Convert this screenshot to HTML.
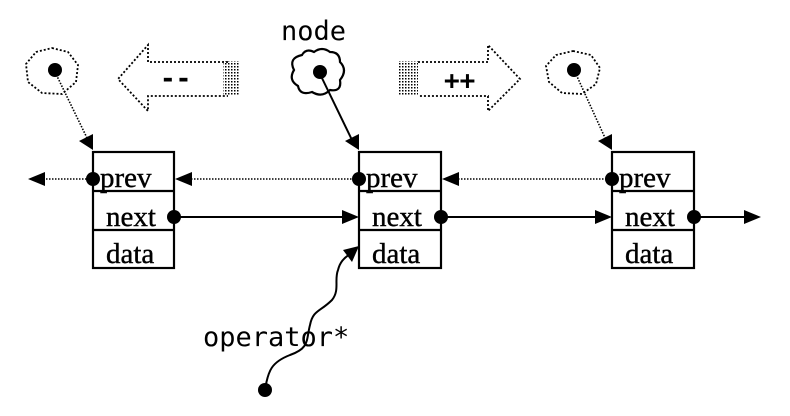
<!DOCTYPE html>
<html><head><style>html,body{margin:0;padding:0;background:#fff}</style></head><body>
<svg width="790" height="411" viewBox="0 0 790 411" xmlns="http://www.w3.org/2000/svg">
<defs>
<pattern id="h" width="3" height="3" patternUnits="userSpaceOnUse"><rect width="1.5" height="1.5" fill="#000"/></pattern>
</defs>
<g fill="none" stroke="#000">
<path d="M52,48 L68,52 L78,65 L76,82 L62,94 L42,93 L28,82 L26,64 L36,52 Z" stroke-dasharray="2,2" stroke-width="1.8"/>
<path d="M573,51 L591,55 L600,68 L596,84 L582,94 L562,93 L549,82 L546,66 L556,55 Z" stroke-dasharray="2,2" stroke-width="1.8"/>
<path d="M302,55 Q306,48 314,52 Q322,46 330,52 Q340,52 340,62 Q348,70 340,80 Q342,92 330,90 Q322,98 312,92 Q300,96 298,86 Q288,80 294,70 Q288,58 302,55 Z" stroke-width="2.2"/>
<path d="M228,62 L148,62 L148,45 L118,79 L148,111 L148,96 L228,96" stroke-dasharray="2,2" stroke-width="1.8"/>
<rect x="223" y="61" width="17" height="35" fill="url(#h)" stroke="none"/>
<path d="M418,62 L488,62 L488,45 L520,79 L488,111 L488,96 L418,96" stroke-dasharray="2,2" stroke-width="1.8"/>
<rect x="398" y="61" width="20" height="35" fill="url(#h)" stroke="none"/>
<g stroke-width="2.2">
<rect x="93" y="152" width="81" height="116"/><line x1="93" y1="191" x2="174" y2="191"/><line x1="93" y1="230" x2="174" y2="230"/>
<rect x="359" y="152" width="82" height="116"/><line x1="359" y1="191" x2="441" y2="191"/><line x1="359" y1="230" x2="441" y2="230"/>
<rect x="612" y="152" width="82" height="116"/><line x1="612" y1="191" x2="694" y2="191"/><line x1="612" y1="230" x2="694" y2="230"/>
</g>
<line x1="55" y1="72" x2="88" y2="140" stroke-dasharray="1.5,1.5" stroke-width="1.6"/>
<line x1="320" y1="74" x2="352" y2="140" stroke-width="2"/>
<line x1="575" y1="72" x2="606" y2="140" stroke-dasharray="1.5,1.5" stroke-width="1.6"/>
<line x1="40" y1="179" x2="93" y2="179" stroke-dasharray="1.5,1.5" stroke-width="1.6"/>
<line x1="185" y1="179" x2="359" y2="179" stroke-dasharray="1.5,1.5" stroke-width="1.6"/>
<line x1="452" y1="179" x2="612" y2="179" stroke-dasharray="1.5,1.5" stroke-width="1.6"/>
<line x1="174" y1="217" x2="350" y2="217" stroke-width="2"/>
<line x1="441" y1="217" x2="603" y2="217" stroke-width="2"/>
<line x1="694" y1="217" x2="750" y2="217" stroke-width="2"/>
<path d="M265,390 C268,370 272,362 290,355 C310,348 306,340 310,325 C313,310 320,312 332,300 C340,290 334,280 338,270 C340,262 344,258 350,254" stroke-width="2"/>
</g>
<g fill="#000">
<circle cx="55" cy="70" r="7"/><circle cx="320" cy="72" r="7"/><circle cx="574" cy="70" r="7"/>
<circle cx="93" cy="179" r="7"/><circle cx="359" cy="179" r="7"/><circle cx="612" cy="179" r="7"/>
<circle cx="174" cy="217" r="7"/><circle cx="441" cy="217" r="7"/><circle cx="694" cy="217" r="7"/>
<circle cx="265" cy="390" r="7"/>
<polygon points="93,150 79,141 93,134"/>
<polygon points="359,150 345,141 359,134"/>
<polygon points="612,150 598,141 612,134"/>
<polygon points="28,179 45,172 45,186"/>
<polygon points="175,179 192,172 192,186"/>
<polygon points="442,179 459,172 459,186"/>
<polygon points="359,217 342,210 342,224"/>
<polygon points="612,217 595,210 595,224"/>
<polygon points="761,217 744,210 744,224"/>
<polygon points="359,246 343,250 352,262"/>
</g>
<g font-family="Liberation Serif, serif" font-size="29" fill="#000" stroke="#000" stroke-width="0.4">
<text x="100" y="187">prev</text><text x="106" y="226">next</text><text x="106" y="263">data</text>
<text x="366" y="187">prev</text><text x="372" y="226">next</text><text x="372" y="263">data</text>
<text x="619" y="187">prev</text><text x="625" y="226">next</text><text x="625" y="263">data</text>
</g>
<g font-family="DejaVu Sans Mono, Liberation Mono, monospace" fill="#000">
<text x="281" y="40" font-size="27">node</text>
<text x="203" y="346" font-size="27">operator*</text>
<text x="160" y="87" font-size="26" font-weight="bold">--</text>
<text x="444" y="89" font-size="26" font-weight="bold">++</text>
</g>
</svg>
</body></html>
